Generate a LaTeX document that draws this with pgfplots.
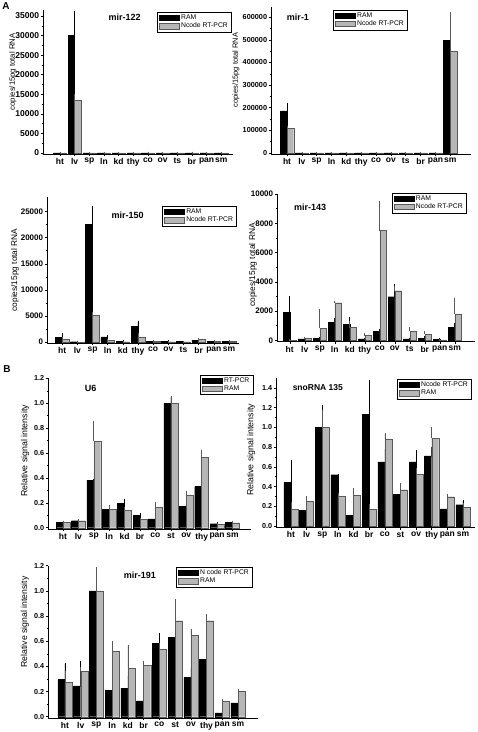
\documentclass[border=0pt]{standalone}
\usepackage{fontspec}
\setmainfont{Liberation Sans}
\usepackage{pgfplots}
\usepackage{pgfplotstable}
\pgfplotsset{compat=1.18}
\definecolor{barg}{RGB}{182,182,182}

\newcommand\catfont{\fontsize{8.5}{9}\selectfont\bfseries}
\newcommand\tickA{\fontsize{8}{9}\selectfont\bfseries}
\newcommand\tickAA{\fontsize{8.5}{9}\selectfont\bfseries}
\newcommand\tickAs{\fontsize{7.3}{8}\selectfont\bfseries}
\newcommand\tickB{\fontsize{7.2}{8}\selectfont\bfseries}
\newcommand\legfont{\fontsize{6.8}{7}\selectfont}
\newcommand\titfont{\fontsize{9}{10}\selectfont\bfseries}

% columns: x, black-bar value, error, grey-bar value, error
\pgfplotstableread{
x a ae b be
0 20 10 15 10
1 30000 6000 13500 1300
2 30 10 20 10
3 30 10 20 10
4 40 10 30 10
5 30 10 20 10
6 50 20 40 10
7 30 10 20 10
8 30 10 20 10
9 60 60 40 10
10 30 10 20 10
11 40 10 30 10
}\tmirA

\pgfplotstableread{
x a ae b be
0 186000 30000 109000 6000
1 500 300 400 200
2 500 300 400 200
3 500 300 400 200
4 500 300 400 200
5 500 300 400 200
6 800 300 400 200
7 500 300 400 200
8 500 300 400 200
9 500 300 400 200
10 500 300 400 200
11 497000 62000 448000 172000
}\tmirB

\pgfplotstableread{
x a ae b be
0 890 640 575 255
1 50 20 40 20
2 22560 3390 5110 510
3 960 130 380 80
4 100 30 50 20
5 2940 960 960 570
6 150 50 80 30
7 80 30 50 20
8 60 20 50 20
9 380 130 450 125
10 120 40 80 30
11 100 30 150 50
}\tmirC

\pgfplotstableread{
x a ae b be
0 1890 1090 20 10
1 90 50 140 40
2 150 30 820 1250
3 1210 230 2570 70
4 1090 460 870 410
5 90 30 320 110
6 590 120 7500 1930
7 2980 800 3390 230
8 90 30 620 250
9 140 60 410 180
10 50 20 30 10
11 870 250 1800 1050
}\tmirD

\pgfplotstableread{
x a ae b be
0 0.043 0.005 0.043 0.005
1 0.056 0.004 0.056 0.006
2 0.383 0.003 0.694 0.158
3 0.145 0.005 0.147 0.030
4 0.193 0.032 0.137 0.018
5 0.099 0.008 0.067 0.003
6 0.070 0.003 0.166 0.030
7 1.000 0.047 1.000 0.047
8 0.169 0.003 0.262 0.027
9 0.330 0.003 0.565 0.055
10 0.032 0.002 0.029 0.002
11 0.045 0.004 0.040 0.003
}\tUsix

\pgfplotstableread{
x a ae b be
0 0.442 0.219 0.169 0.060
1 0.162 0.091 0.250 0.040
2 1.000 0.215 1.000 0.167
3 0.520 0.000 0.300 0.024
4 0.111 0.010 0.310 0.068
5 1.130 0.340 0.172 0.041
6 0.651 0.128 0.884 0.051
7 0.324 0.047 0.368 0.057
8 0.651 0.105 0.526 0.048
9 0.712 0.081 0.887 0.108
10 0.175 0.068 0.297 0.020
11 0.216 0.037 0.192 0.027
}\tsno

\pgfplotstableread{
x a ae b be
0 0.297 0.124 0.273 0.085
1 0.246 0.186 0.363 0.026
2 1.000 0.020 1.000 0.179
3 0.212 0.048 0.517 0.079
4 0.225 0.098 0.384 0.178
5 0.125 0.007 0.410 0.027
6 0.585 0.069 0.535 0.040
7 0.630 0.106 0.763 0.162
8 0.313 0.071 0.649 0.040
9 0.456 0.238 0.763 0.045
10 0.030 0.030 0.120 0.010
11 0.110 0.030 0.200 0.010
}\tmir

\pgfplotsset{
  myleg/.style={legend image code/.code={\draw[##1,line width=0.4pt] (0pt,-2.6pt) rectangle (20pt,2.6pt);}},
  panel/.style={
    scale only axis, clip=false,
    axis x line=bottom, axis y line=left,
    axis line style={-, line width=0.6pt},
    tick align=outside,
    major tick length=2.2pt, minor tick length=1.4pt,
    every tick/.style={black, line width=0.5pt},
    xtick={0,...,11},
    xticklabel style={font=\catfont, inner sep=1pt, yshift=-1pt},
    yticklabel style={inner sep=1.5pt},
    scaled y ticks=false,
    /pgf/number format/assume math mode=true,
    /pgf/number format/fixed,
    /pgf/number format/1000 sep={},
    minor y tick num=1,
    legend cell align=left,
    legend style={draw=black, line width=0.4pt, font=\legfont, inner xsep=1.5pt, inner ysep=0.5pt, row sep=-2pt, anchor=north west},
  },
  catA/.style={xticklabels={ht,lv,sp,ln,kd,thy,co,ov,ts,br,pan,sm}, yticklabel style={font=\tickA}},
  catB/.style={xticklabels={ht,lv,sp,ln,kd,br,co,st,ov,thy,pan,sm}, yticklabel style={font=\tickB},
    yticklabel style={/pgf/number format/.cd, fixed, fixed zerofill, precision=1}},
  blk/.style={ybar, bar width=0.45, bar shift=-0.225, fill=black, draw=black, line width=0.4pt, myleg,
    error bars/.cd, y dir=plus, y explicit, error bar style={line width=0.6pt, black}, error mark options={mark size=1pt, line width=0.6pt, black}},
  gry/.style={ybar, bar width=0.45, bar shift=0.225, fill=barg, draw=black!65, line width=0.4pt, myleg,
    error bars/.cd, y dir=plus, y explicit, error bar style={line width=0.6pt, black!65}, error mark options={mark size=1pt, line width=0.6pt, black!65}},
}

\begin{document}
\begin{tikzpicture}
\useasboundingbox (0pt,0pt) rectangle (478pt,-732pt);

% ---- mir-122
\begin{axis}[panel, catA, at={(43pt,-154pt)}, anchor=south west, width=190pt, height=144pt,
  xmin=-1.16, xmax=11.8, ymin=-255, ymax=36540, ytick={0,5000,...,35000},
  yticklabel style={font=\tickAA},
  legend style={at={(0.6,0.986)}}]
\addplot[blk] table[x=x,y=a,y error=ae]{\tmirA};
\addplot[gry] table[x=x,y=b,y error=be]{\tmirA};
\legend{RAM,Ncode RT-PCR}
\node[font=\titfont] at (rel axis cs:0.43,0.95) {mir-122};
\end{axis}

% ---- mir-1
\begin{axis}[panel, catA, at={(271pt,-154pt)}, anchor=south west, width=200pt, height=147pt,
  xmin=-1.08, xmax=12.4, ymin=-4400, ymax=645000, ytick={0,100000,...,600000},
  yticklabel style={font=\tickAs},
  legend style={at={(0.31,0.98)}}]
\addplot[blk] table[x=x,y=a,y error=ae]{\tmirB};
\addplot[gry] table[x=x,y=b,y error=be]{\tmirB};
\legend{RAM,Ncode RT-PCR}
\node[font=\titfont] at (rel axis cs:0.135,0.93) {mir-1};
\end{axis}

% ---- mir-150
\begin{axis}[panel, catA, at={(47pt,-343pt)}, anchor=south west, width=192pt, height=146pt,
  xmin=-1.0, xmax=11.66, ymin=-192, ymax=27800, ytick={0,5000,...,25000},
  legend style={at={(0.6,0.938)}}]
\addplot[blk] table[x=x,y=a,y error=ae]{\tmirC};
\addplot[gry] table[x=x,y=b,y error=be]{\tmirC};
\legend{RAM,Ncode RT-PCR}
\node[font=\titfont] at (rel axis cs:0.42,0.877) {mir-150};
\end{axis}

% ---- mir-143
\begin{axis}[panel, catA, at={(277pt,-341.7pt)}, anchor=south west, width=198pt, height=147.7pt,
  xmin=-0.85, xmax=12.35, ymin=-96, ymax=10000, ytick={0,2000,...,10000},
  legend style={at={(0.58,1.007)}}]
\addplot[blk] table[x=x,y=a,y error=ae]{\tmirD};
\addplot[gry] table[x=x,y=b,y error=be]{\tmirD};
\legend{RAM,Ncode RT-PCR}
\node[font=\titfont] at (rel axis cs:0.167,0.912) {mir-143};
\end{axis}

% ---- U6
\begin{axis}[panel, catB, at={(48pt,-529pt)}, anchor=south west, width=203pt, height=150.7pt,
  xmin=-0.97, xmax=12.2, ymin=-0.0104, ymax=1.2, ytick={0,0.2,...,1.2},
  legend style={at={(0.749,1.022)}}]
\addplot[blk] table[x=x,y=a,y error=ae]{\tUsix};
\addplot[gry] table[x=x,y=b,y error=be]{\tUsix};
\legend{RT-PCR,RAM}
\node[font=\titfont] at (rel axis cs:0.21,0.936) {U6};
\end{axis}

% ---- snoRNA 135
\begin{axis}[panel, catB, at={(276pt,-527.3pt)}, anchor=south west, width=199pt, height=149.3pt,
  xmin=-0.96, xmax=11.77, ymin=-0.013, ymax=1.5, ytick={0,0.2,...,1.4},
  legend style={at={(0.608,0.993)}}]
\addplot[blk] table[x=x,y=a,y error=ae]{\tsno};
\addplot[gry] table[x=x,y=b,y error=be]{\tsno};
\legend{Ncode RT-PCR,RAM}
\node[font=\fontsize{8.5}{9}\selectfont\bfseries] at (rel axis cs:0.21,0.933) {snoRNA 135};
\end{axis}

% ---- mir-191
\begin{axis}[panel, catB, at={(48pt,-718pt)}, anchor=south west, width=210pt, height=152.3pt,
  xmin=-1.08, xmax=12.27, ymin=-0.0103, ymax=1.2, ytick={0,0.2,...,1.2},
  legend style={at={(0.61,0.991)}}]
\addplot[blk] table[x=x,y=a,y error=ae]{\tmir};
\addplot[gry] table[x=x,y=b,y error=be]{\tmir};
\legend{N code RT-PCR,RAM}
\node[font=\titfont] at (rel axis cs:0.438,0.939) {mir-191};
\end{axis}

% y labels and panel letters
\node[rotate=90, font=\fontsize{7.7}{8}\selectfont] at (13pt,-72pt) {copies/15pg total RNA};
\node[rotate=90, font=\fontsize{7.5}{8}\selectfont] at (236pt,-70pt) {copies/15pg total RNA};
\node[rotate=90, font=\fontsize{8.3}{9}\selectfont] at (15pt,-270pt) {copies/15pg total RNA};
\node[rotate=90, font=\fontsize{8.4}{9}\selectfont] at (253pt,-265pt) {copies/15pg total RNA};
\node[rotate=90, font=\fontsize{8.8}{9}\selectfont] at (25pt,-451pt) {Relative signal intensity};
\node[rotate=90, font=\fontsize{8.8}{9}\selectfont] at (251pt,-450pt) {Relative signal intensity};
\node[rotate=90, font=\fontsize{8.7}{9}\selectfont] at (25pt,-622pt) {Relative signal intensity};
\node[font=\fontsize{10}{10}\selectfont\bfseries] at (6pt,-6pt) {A};
\node[font=\fontsize{10}{10}\selectfont\bfseries] at (7pt,-369pt) {B};
\end{tikzpicture}
\end{document}
